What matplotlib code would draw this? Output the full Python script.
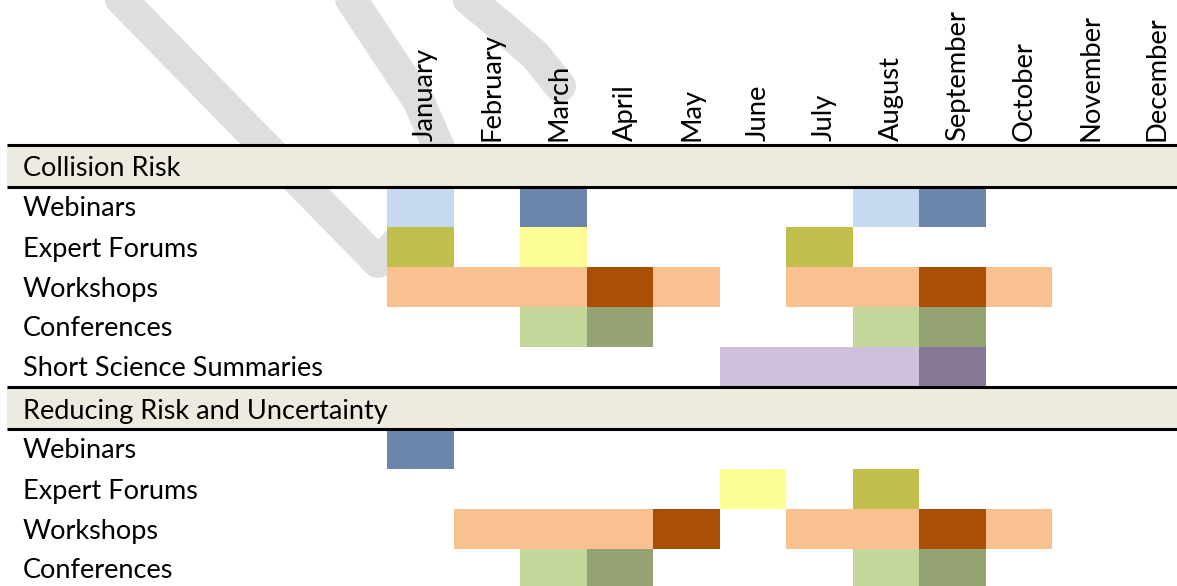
import matplotlib.pyplot as plt

plt.rcParams['font.family'] = ['Lato', 'DejaVu Sans']

months = ['January', 'February', 'March', 'April', 'May', 'June', 'July',
          'August', 'September', 'October', 'November', 'December']
groups = ['Collision Risk', 'Reducing Risk and Uncertainty']
activities = ['Webinars', 'Expert Forums', 'Workshops', 'Conferences',
              'Short Science Summaries']

# 0 = nothing, 1 = light shade, 2 = dark shade
collision_webinars = [1, 0, 2, 0, 0, 0, 0, 1, 2, 0, 0, 0]
collision_expert = [2, 0, 1, 0, 0, 0, 2, 0, 0, 0, 0, 0]
collision_workshops = [1, 1, 1, 2, 1, 0, 1, 1, 2, 1, 0, 0]
collision_conferences = [0, 0, 1, 2, 0, 0, 0, 1, 2, 0, 0, 0]
collision_summaries = [0, 0, 0, 0, 0, 1, 1, 1, 2, 0, 0, 0]

reducing_webinars = [2, 0, 0, 0, 0, 0, 0, 0, 0, 0, 0, 0]
reducing_expert = [0, 0, 0, 0, 0, 1, 0, 2, 0, 0, 0, 0]
reducing_workshops = [0, 1, 1, 1, 2, 0, 1, 1, 2, 1, 0, 0]
reducing_conferences = [0, 0, 1, 2, 0, 0, 0, 1, 2, 0, 0, 0]

light = {'Webinars': '#C6D9F1', 'Expert Forums': '#FDFD96', 'Workshops': '#F9C090',
         'Conferences': '#C4D79B', 'Short Science Summaries': '#CCC0DA'}
dark = {'Webinars': '#6A87AB', 'Expert Forums': '#C0BF4C', 'Workshops': '#AA4F06',
        'Conferences': '#95A374', 'Short Science Summaries': '#857896'}

table = [
    ('group', groups[0], None),
    ('row', activities[0], collision_webinars),
    ('row', activities[1], collision_expert),
    ('row', activities[2], collision_workshops),
    ('row', activities[3], collision_conferences),
    ('row', activities[4], collision_summaries),
    ('group', groups[1], None),
    ('row', activities[0], reducing_webinars),
    ('row', activities[1], reducing_expert),
    ('row', activities[2], reducing_workshops),
    ('row', activities[3], reducing_conferences),
]

W, H = 1177, 586
COL_W = 66.5      # px per month column
X0 = 387          # px where January starts
TOP = 145         # px of the first rule
ROW_H = 40
BAND_H = 42

fig = plt.figure(figsize=(W / 100, H / 100), dpi=100)

# faint watermark strokes behind the table
bg = fig.add_axes([0, 0, 1, 1])
bg.set_xlim(0, W)
bg.set_ylim(H, 0)
bg.axis('off')
wm = dict(color='#DEDEDE', lw=23, solid_capstyle='round', solid_joinstyle='round', zorder=0)
bg.plot([112, 378, 428, 440, 418, 388, 345], [-10, 262, 212, 150, 100, 55, -10], **wm)
bg.plot([455, 500, 535, 560], [-12, 25, 55, 86], **wm)
bg.plot([615, 655], [-45, -7], **wm)

ax = fig.add_axes([0, 0, 1, 1])
ax.patch.set_alpha(0)
ax.set_xlim(-X0 / COL_W, (W - X0) / COL_W)
ax.set_ylim(H, 0)
ax.axis('off')

x_left = (7 - X0) / COL_W
x_right = (W + 5 - X0) / COL_W
x_label = (23 - X0) / COL_W

y = TOP
for kind, label, levels in table:
    if kind == 'group':
        ax.barh(y, x_right - x_left, left=x_left, height=BAND_H, align='edge',
                color='#EDEBE0', zorder=1)
        ax.hlines([y, y + BAND_H], x_left, x_right, color='black', lw=2.2, zorder=3)
        ax.text(x_label, y + BAND_H / 2 + 3, label, fontsize=19.5, va='center', zorder=4)
        y += BAND_H
    else:
        for m, lv in enumerate(levels):
            if lv:
                c = light[label] if lv == 1 else dark[label]
                ax.bar(m, ROW_H, bottom=y, width=1, align='edge', color=c, zorder=2)
        ax.text(x_label, y + ROW_H / 2 + 2, label, fontsize=19.5, va='center', zorder=4)
        y += ROW_H

for m, name in enumerate(months):
    ax.text(m + 0.58, TOP - 4, name, rotation=90, ha='center', va='bottom',
            fontsize=19.7, zorder=4)

fig.savefig('out.png', dpi=100)
